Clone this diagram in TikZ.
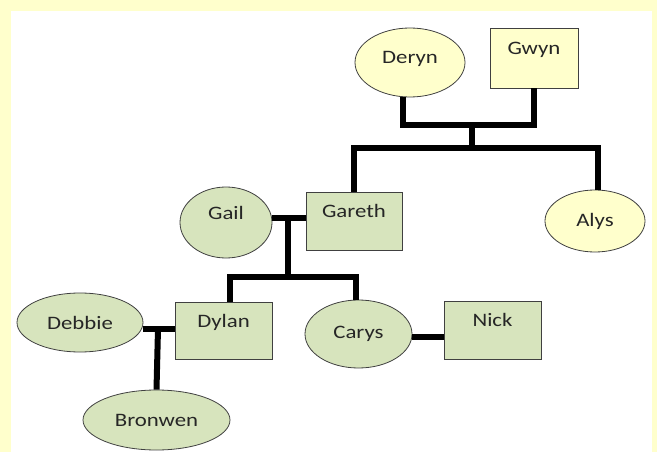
\documentclass[tikz,border=0pt]{standalone}
\usepackage{fontspec}
\setmainfont{Carlito}[FakeStretch=1.2]
\usetikzlibrary{shapes.geometric}
\definecolor{paleyellow}{HTML}{FFFFCC}
\definecolor{sage}{HTML}{D7E4BD}
\tikzstyle{person}=[draw=black!75, line width=0.8pt, inner sep=0pt, text=black!85, font=\fontsize{19}{22}\selectfont]
\tikzstyle{her}=[person, ellipse]
\tikzstyle{him}=[person, rectangle, text height=12pt, text depth=19pt]
\tikzstyle{link}=[line width=6pt]

\begin{document}
\begin{tikzpicture}[x=1pt, y=-1pt]
	\fill[paleyellow] (0,0) rectangle (657,452);
	\useasboundingbox (0,0) rectangle (657,452);
	\fill[white] (11,11) rectangle (652,452);
	% first generation
	\node[her, fill=paleyellow, minimum width=110pt, minimum height=69pt, text depth=10pt] (deryn) at (410,62.5) {Deryn};
	\node[him, fill=paleyellow, minimum width=88pt, minimum height=60pt] (gwyn) at (534,58) {Gwyn};
	% second generation
	\node[her, fill=paleyellow, minimum width=100pt, minimum height=62pt] (alys) at (595,221) {Alys};
	\node[her, fill=sage, minimum width=92pt, minimum height=71pt, text depth=19pt] (gail) at (226,222.5) {Gail};
	\node[him, fill=sage, minimum width=96pt, minimum height=58pt] (gareth) at (354,221) {Gareth};
	% third generation
	\node[her, fill=sage, minimum width=126pt, minimum height=59pt] (debbie) at (80,322.5) {Debbie};
	\node[him, fill=sage, minimum width=97pt, minimum height=57pt] (dylan) at (223.5,330.5) {Dylan};
	\node[her, fill=sage, minimum width=107pt, minimum height=68pt] (carys) at (358.5,334) {Carys};
	\node[him, fill=sage, minimum width=97pt, minimum height=58pt] (nick) at (492.5,330) {Nick};
	% fourth generation
	\node[her, fill=sage, minimum width=147pt, minimum height=60pt] (bronwen) at (156.5,420) {Bronwen};

	\coordinate (dg) at (472,125);
	\draw[link] ([xshift=-7pt]deryn.south) |- (dg) -| (gwyn.south);
	\draw[link] (dg) -- ++(0,23) coordinate (kids1);
	\draw[link] (gareth.north) |- (kids1) -| ([xshift=3pt]alys.north);

	\draw[link] ([yshift=4.5pt]gail.east) -- ([yshift=4.5pt]gail.east -| gareth.west);
	\coordinate (gg) at ([yshift=4.5pt]gail.east -| 288,0);
	\draw[link] (gg) -- ++(0,59) coordinate (kids2);
	\draw[link] ([xshift=6pt]dylan.north) |- (kids2) -| ([xshift=-3pt]carys.north);

	\draw[link] ([yshift=-6.5pt]debbie.east) -- ([yshift=-6.5pt]debbie.east -| dylan.west);
	\coordinate (dd) at ([yshift=-6.5pt]debbie.east -| 158,0);
	\draw[link] (dd) -- (bronwen.north);

	\draw[link] ([yshift=-3pt]carys.east) -- ([yshift=-3pt]carys.east -| nick.west);
\end{tikzpicture}
\end{document}
